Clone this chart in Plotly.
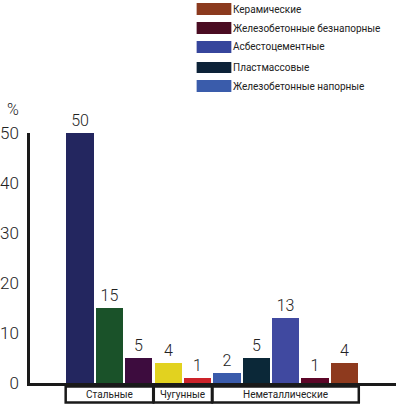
import plotly.graph_objects as go

# Data
values = [50, 15, 5, 4, 1, 2, 5, 13, 1, 4]
bar_colors = ["#23265f", "#1a5229", "#3d0c3e", "#e2d21f", "#cc2229",
              "#3a5bab", "#0b2838", "#4049a0", "#5c0628", "#8e3a1e"]
groups = ["Стальные", "Чугунные", "Неметаллические"]
group_spans = [(0, 2), (3, 4), (5, 9)]
legend_labels = ["Керамические", "Железобетонные безнапорные", "Асбестоцементные",
                 "Пластмассовые", "Железобетонные напорные"]
legend_colors = ["#8b3a1e", "#4a0c22", "#36459c", "#0c2238", "#3a5cab"]
y_ticks = [0, 10, 20, 30, 40, 50]

W, H = 396, 409
L, R, T, B = 27, 396, 133, 383
FONT = "Roboto"
TXT = "#222222"

def px(x):
    return (x - L) / (R - L)

def py(y):
    return (B - y) / (B - T)

fig = go.Figure()
fig.add_trace(go.Bar(
    x=list(range(len(values))), y=values,
    marker=dict(color=bar_colors, line=dict(width=0)),
    width=0.93,
    text=[str(v) for v in values], textposition="outside",
    textfont=dict(size=16, color=TXT, family=FONT, weight=300),
    cliponaxis=False, showlegend=False, hoverinfo="skip",
))

shapes = []
annotations = []
# group boxes
for name, (a, b) in zip(groups, group_spans):
    shapes.append(dict(type="rect", xref="x", yref="paper",
                       x0=a - 0.49, x1=b + 0.49, y0=py(402.5), y1=py(386.5),
                       line=dict(color="#1a1a1a", width=2.5), fillcolor="white"))
    annotations.append(dict(xref="x", yref="paper", x=(a + b) / 2, y=py(394.5),
                            text=name, showarrow=False, xanchor="center", yanchor="middle",
                            font=dict(size=10, color=TXT, family=FONT)))
# legend
rows = [(3, 15), (22, 34), (41, 53), (62, 73), (80, 92)]
for lab, col, (y0, y1) in zip(legend_labels, legend_colors, rows):
    shapes.append(dict(type="rect", xref="paper", yref="paper",
                       x0=px(195), x1=px(230), y0=py(y1), y1=py(y0),
                       line=dict(width=0), fillcolor=col))
    annotations.append(dict(xref="paper", yref="paper", x=px(230), y=py((y0 + y1) / 2),
                            text=lab, showarrow=False, xanchor="left", yanchor="middle",
                            font=dict(size=10, color=TXT, family=FONT)))
# % label
annotations.append(dict(xref="paper", yref="paper", x=px(2), y=py(110),
                        text="%", showarrow=False, xanchor="left", yanchor="middle",
                        font=dict(size=16, color=TXT, family=FONT, weight=300)))

fig.update_layout(
    width=W, height=H,
    margin=dict(l=L, r=W - R, t=T, b=H - B, pad=0),
    paper_bgcolor="white", plot_bgcolor="white",
    shapes=shapes, annotations=annotations,
    bargap=0,
    xaxis=dict(range=[-1.705, 10.757], showticklabels=False, showgrid=False,
               zeroline=False, showline=True, linecolor="#1a1a1a", linewidth=2.5,
               ticks=""),
    yaxis=dict(range=[0, 50], tickvals=y_ticks, showgrid=False, zeroline=False,
               showline=True, linecolor="#1a1a1a", linewidth=2.5, ticks="",
               ticklabelstandoff=5,
               tickfont=dict(size=17, color=TXT, family=FONT, weight=300)),
    font=dict(family=FONT, color=TXT),
)

fig.write_html("out.html", config={"displayModeBar": False},
               post_script="document.body.style.margin='0';document.body.style.overflow='hidden';")
